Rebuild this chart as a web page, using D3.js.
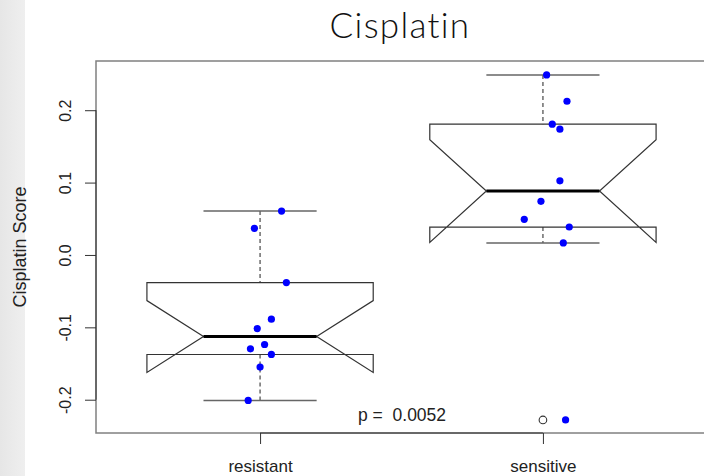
<!DOCTYPE html>
<html>
<head>
<meta charset="utf-8">
<script src="https://cdn.jsdelivr.net/npm/d3@7"></script>
<style>
  body { margin: 0; background: #fff; }
  svg { display: block; font-family: "Liberation Sans", Arial, sans-serif; }
</style>
</head>
<body>
<div id="chart"></div>
<script>
// data
var categories = ["resistant", "sensitive"];
var resistantScores = [0.0607, 0.0368, -0.0382, -0.0887, -0.1017, -0.1237, -0.1297, -0.1375, -0.1549, -0.2010];
var resistantJitter = [0.076, -0.020, 0.093, 0.040, -0.010, 0.016, -0.034, 0.040, 0.000, -0.042];
var sensitiveScores = [0.2487, 0.2124, 0.1807, 0.1738, 0.1025, 0.0741, 0.0492, 0.0386, 0.0166, -0.2280];
var sensitiveJitter = [0.013, 0.085, 0.033, 0.060, 0.060, -0.007, -0.066, 0.093, 0.072, 0.080];
var yTicks = [-0.2, -0.1, 0.0, 0.1, 0.2];
var pText = "p =  0.0052";

var svgWidth = 704;
var svgHeight = 476;

// plot region (R style, right edge runs off the page)
var plot = { left: 96, top: 61, right: 707, bottom: 433 };

var svg = d3.select("#chart")
    .append("svg")
    .attr("width", svgWidth)
    .attr("height", svgHeight);

// grey strip on the left edge
var grad = svg.append("defs").append("linearGradient")
    .attr("id", "strip");
grad.append("stop").attr("offset", "0%").attr("stop-color", "#e6e6e6");
grad.append("stop").attr("offset", "100%").attr("stop-color", "#efefef");
svg.append("rect")
    .attr("width", 25)
    .attr("height", svgHeight)
    .attr("fill", "url(#strip)");

var x = d3.scaleLinear()
    .domain([0.42, 2.58])
    .range([plot.left, plot.right]);

var y = d3.scaleLinear()
    .domain([-0.246, 0.268])
    .range([plot.bottom, plot.top]);

// R's fivenum + boxplot.stats
function boxStats(values) {
    var s = values.slice().sort(d3.ascending);
    var n = s.length;
    var n4 = Math.floor((n + 3) / 2) / 2;
    var d = [1, n4, (n + 1) / 2, n + 1 - n4, n];
    var f = d.map(function(p) {
        return 0.5 * (s[Math.floor(p) - 1] + s[Math.ceil(p) - 1]);
    });
    var iqr = f[3] - f[1];
    var lo = f[1] - 1.5 * iqr, hi = f[3] + 1.5 * iqr;
    var inside = s.filter(v => v >= lo && v <= hi);
    return {
        q1: f[1], med: f[2], q3: f[3],
        wlo: d3.min(inside), whi: d3.max(inside),
        out: s.filter(v => v < lo || v > hi),
        notch: 1.58 * iqr / Math.sqrt(n)
    };
}

var groups = [
    { pos: 1, scores: resistantScores, jitter: resistantJitter },
    { pos: 2, scores: sensitiveScores, jitter: sensitiveJitter }
];

var boxHalf = 0.4, notchHalf = 0.2, capHalf = 0.2;

groups.forEach(function(g) {
    var st = boxStats(g.scores);
    var gg = svg.append("g");

    // dashed whiskers
    gg.append("line")
        .attr("x1", x(g.pos)).attr("x2", x(g.pos))
        .attr("y1", y(st.whi)).attr("y2", y(st.q3))
        .attr("stroke", "#555").attr("stroke-width", 1.3)
        .attr("stroke-dasharray", "4,3");
    gg.append("line")
        .attr("x1", x(g.pos)).attr("x2", x(g.pos))
        .attr("y1", y(st.q1)).attr("y2", y(st.wlo))
        .attr("stroke", "#555").attr("stroke-width", 1.3)
        .attr("stroke-dasharray", "4,3");

    // caps
    [st.whi, st.wlo].forEach(function(v) {
        gg.append("line")
            .attr("x1", x(g.pos - capHalf)).attr("x2", x(g.pos + capHalf))
            .attr("y1", y(v)).attr("y2", y(v))
            .attr("stroke", "#666").attr("stroke-width", 1.5);
    });

    // notched box
    var xl = x(g.pos - boxHalf), xr = x(g.pos + boxHalf);
    var il = x(g.pos - notchHalf), ir = x(g.pos + notchHalf);
    var pts = [
        [xl, y(st.q1)], [xl, y(st.med - st.notch)], [il, y(st.med)],
        [xl, y(st.med + st.notch)], [xl, y(st.q3)], [xr, y(st.q3)],
        [xr, y(st.med + st.notch)], [ir, y(st.med)], [xr, y(st.med - st.notch)],
        [xr, y(st.q1)]
    ];
    gg.append("path")
        .attr("d", d3.line()(pts) + "Z")
        .attr("fill", "none")
        .attr("stroke", "#333")
        .attr("stroke-width", 1.2);

    // median
    gg.append("line")
        .attr("x1", il).attr("x2", ir)
        .attr("y1", y(st.med)).attr("y2", y(st.med))
        .attr("stroke", "#000").attr("stroke-width", 3);

    // outliers
    gg.selectAll(".out")
        .data(st.out)
        .enter().append("circle")
        .attr("cx", x(g.pos))
        .attr("cy", d => y(d))
        .attr("r", 3.8)
        .attr("fill", "none")
        .attr("stroke", "#333")
        .attr("stroke-width", 1.1);

    // jittered points
    gg.selectAll(".pt")
        .data(g.scores)
        .enter().append("circle")
        .attr("cx", (d, i) => x(g.pos + g.jitter[i]))
        .attr("cy", d => y(d))
        .attr("r", 3.6)
        .attr("fill", "#0000ff");
});

// frame
svg.append("rect")
    .attr("x", plot.left)
    .attr("y", plot.top)
    .attr("width", plot.right - plot.left)
    .attr("height", plot.bottom - plot.top)
    .attr("fill", "none")
    .attr("stroke", "#808080")
    .attr("stroke-width", 1.5);

// y axis, R prints a plain hyphen
var leftAxis = d3.axisLeft(y)
    .tickValues(yTicks)
    .tickSize(11)
    .tickFormat(d => d.toFixed(1));

var yAxis = svg.append("g")
    .attr("transform", `translate(${plot.left}, 0)`)
    .call(leftAxis);
yAxis.select(".domain").remove();
yAxis.selectAll("line").attr("stroke", "#333");
yAxis.selectAll("text")
    .attr("transform", "rotate(-90)")
    .attr("x", 0)
    .attr("y", -25)
    .attr("dy", 0)
    .attr("text-anchor", "middle")
    .attr("font-size", "16px")
    .attr("font-family", "Liberation Sans, Arial, sans-serif")
    .attr("fill", "#222");
svg.append("line")
    .attr("x1", plot.left).attr("x2", plot.left)
    .attr("y1", y(yTicks[0])).attr("y2", y(yTicks[yTicks.length - 1]))
    .attr("stroke", "#333");

// x axis
var bottomAxis = d3.axisBottom(x)
    .tickValues([1, 2])
    .tickSize(11)
    .tickFormat((d, i) => categories[i]);

var xAxis = svg.append("g")
    .attr("transform", `translate(0, ${plot.bottom})`)
    .call(bottomAxis);
xAxis.select(".domain").remove();
xAxis.selectAll("line").attr("stroke", "#333");
xAxis.selectAll("text")
    .attr("y", 39)
    .attr("dy", 0)
    .attr("font-size", "17px")
    .attr("font-family", "Liberation Sans, Arial, sans-serif")
    .attr("fill", "#222");
svg.append("line")
    .attr("x1", x(1)).attr("x2", x(2))
    .attr("y1", plot.bottom).attr("y2", plot.bottom)
    .attr("stroke", "#333");

// y label
svg.append("text")
    .attr("transform", `translate(26, ${(plot.top + plot.bottom) / 2}) rotate(-90)`)
    .attr("text-anchor", "middle")
    .attr("font-size", "18px")
    .attr("fill", "#222")
    .text("Cisplatin Score");

// p value
svg.append("text")
    .attr("x", 358)
    .attr("y", 421)
    .attr("font-size", "17.5px")
    .attr("fill", "#222")
    .style("white-space", "pre")
    .text(pText);

// title
svg.append("text")
    .attr("x", 400)
    .attr("y", 38)
    .attr("text-anchor", "middle")
    .attr("font-family", "Lato, 'Open Sans', sans-serif")
    .attr("font-weight", 300)
    .attr("font-size", "35px")
    .attr("letter-spacing", "1.3px")
    .attr("fill", "#111")
    .text("Cisplatin");
</script>
</body>
</html>
